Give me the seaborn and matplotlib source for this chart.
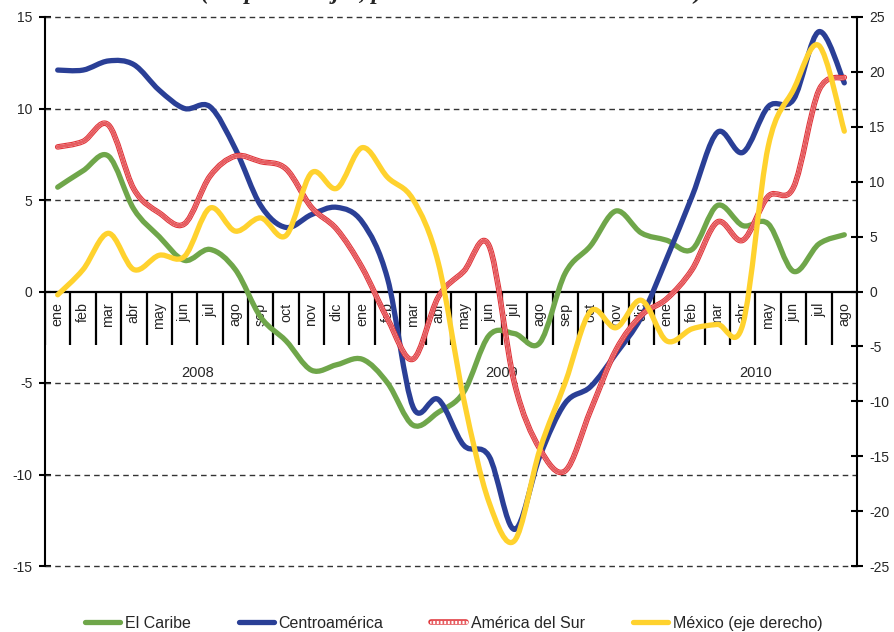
import numpy as np
import matplotlib
matplotlib.use("Agg")
import matplotlib.pyplot as plt
import seaborn as sns
from matplotlib.path import Path
from matplotlib.patches import PathPatch
from matplotlib.lines import Line2D
from matplotlib.legend_handler import HandlerTuple

# ---- data: monthly values, ene 2008 .. ago 2010 ----
month_names = ["ene", "feb", "mar", "abr", "may", "jun",
               "jul", "ago", "sep", "oct", "nov", "dic"]
months = month_names * 2 + month_names[:8]
years = ["2008", "2009", "2010"]
year_spans = [(0, 11), (12, 23), (24, 31)]

el_caribe = [5.7, 6.6, 7.4, 4.5, 3.0, 1.7, 2.3, 1.2, -1.4, -2.7, -4.3, -4.0,
             -3.7, -5.0, -7.3, -6.6, -5.5, -2.4, -2.3, -2.8, 1.0, 2.5, 4.4, 3.2,
             2.8, 2.3, 4.7, 3.6, 3.7, 1.1, 2.6, 3.1]
centroamerica = [12.1, 12.1, 12.6, 12.4, 11.0, 10.0, 10.1, 7.8, 4.7, 3.5, 4.2, 4.6,
                 3.8, 0.7, -6.3, -5.9, -8.4, -9.0, -13.0, -9.0, -6.1, -5.2, -3.4, -1.4,
                 1.8, 5.2, 8.7, 7.6, 10.1, 10.5, 14.2, 11.4]
america_sur = [7.9, 8.2, 9.1, 5.6, 4.3, 3.7, 6.3, 7.4, 7.1, 6.7, 4.6, 3.4,
               1.3, -1.5, -3.7, -0.3, 1.1, 2.5, -5.0, -8.6, -9.8, -6.5, -3.2, -1.3,
               -0.4, 1.2, 3.8, 2.8, 5.2, 5.7, 11.0, 11.7]
mexico = [-0.3, 2.0, 5.3, 2.0, 3.3, 3.2, 7.6, 5.5, 6.7, 5.1, 10.8, 9.4,
          13.1, 10.4, 8.4, 2.6, -9.8, -19.2, -22.7, -14.4, -8.3, -1.8, -3.3, -0.8,
          -4.5, -3.4, -3.0, -3.0, 13.2, 18.4, 22.4, 14.6]

labels = ["El Caribe", "Centroamérica", "América del Sur", "México (eje derecho)"]

GREEN = "#6FA64A"
BLUE = "#2A3F96"
RED = "#E0353A"
YELLOW = "#FFD22E"

sns.set_theme(style="white")
plt.rcParams["font.family"] = ["Liberation Sans", "DejaVu Sans"]
plt.rcParams["axes.unicode_minus"] = False


def smooth_path(xs, ys):
    """Cubic Bezier path through the points (Catmull-Rom style smoothing)."""
    pts = np.column_stack([xs, ys]).astype(float)
    n = len(pts)
    verts = [pts[0]]
    codes = [Path.MOVETO]
    for i in range(n - 1):
        p0 = pts[max(i - 1, 0)]
        p1 = pts[i]
        p2 = pts[i + 1]
        p3 = pts[min(i + 2, n - 1)]
        c1 = p1 + (p2 - p0) / 6.0
        c2 = p2 - (p3 - p1) / 6.0
        verts += [c1, c2, p2]
        codes += [Path.CURVE4] * 3
    return Path(verts, codes)


def draw_series(ax, values, **kw):
    x = np.arange(len(values))
    patch = PathPatch(smooth_path(x, values), fill=False,
                      capstyle="round", joinstyle="round", **kw)
    ax.add_patch(patch)
    return patch


fig = plt.figure(figsize=(8.95, 6.32), dpi=100)
ax = fig.add_axes([45 / 895, 66 / 632, 812 / 895, 549 / 632])
ax2 = ax.twinx()

n = len(months)
ax.set_xlim(-0.5, n - 0.5)
ax.set_ylim(-15, 15)
ax2.set_ylim(-25, 25)

# dashed horizontal guides
for v in [-15, -10, -5, 5, 10, 15]:
    ax.axhline(v, color="#333333", lw=1.0, ls=(0, (4, 3)), zorder=1, clip_on=False)
ax.axhline(0, color="black", lw=1.6, zorder=2)

# category axis: month separators hanging from the zero line
ax.vlines(np.arange(n + 1) - 0.5, -2.95, 0, color="black", lw=1.6, zorder=2)
for i, m in enumerate(months):
    ax.text(i, -0.6, m, rotation=90, ha="center", va="top", fontsize=10.3, zorder=3)
for yr, (a, b) in zip(years, year_spans):
    ax.text((a + b) / 2, -4.45, yr, ha="center", va="center", fontsize=10.5, zorder=3)

# series
draw_series(ax, el_caribe, edgecolor=GREEN, lw=3.8, zorder=4)
draw_series(ax, centroamerica, edgecolor=BLUE, lw=3.8, zorder=5)
draw_series(ax, america_sur, edgecolor=RED, lw=4.0, zorder=6)
draw_series(ax, america_sur, edgecolor="white", lw=2.4, zorder=6.1)
draw_series(ax, america_sur, edgecolor=RED, lw=2.4, zorder=6.2,
            linestyle=(0, (0.5, 0.6)), alpha=0.8)
draw_series(ax2, mexico, edgecolor=YELLOW, lw=3.8, zorder=7)

# axes styling
ax.set_xticks([])
ax.set_yticks(np.arange(-15, 16, 5))
ax2.set_yticks(np.arange(-25, 26, 5))
for a in (ax, ax2):
    a.grid(False)
    a.spines["top"].set_visible(False)
    a.spines["bottom"].set_visible(False)
    a.tick_params(axis="y", direction="inout", length=8, width=1.5,
                  color="black", labelsize=10, pad=5)
ax.spines["left"].set_color("black")
ax.spines["left"].set_linewidth(1.5)
ax2.spines["right"].set_color("black")
ax2.spines["right"].set_linewidth(1.5)
ax2.spines["left"].set_visible(False)
ax.spines["right"].set_visible(False)
ax.patch.set_visible(False)
ax2.patch.set_visible(False)

# heading (only its lower part falls inside the figure)
fig.text(0.505, 1.0015, "(En porcentajes, promedios móviles de tres meses)",
         ha="center", va="baseline", fontsize=17.5, fontweight="bold",
         fontstyle="italic", family=["Liberation Serif", "DejaVu Serif"])

# legend
h_green = Line2D([], [], color=GREEN, lw=3.8, solid_capstyle="round")
h_blue = Line2D([], [], color=BLUE, lw=3.8, solid_capstyle="round")
h_red = (Line2D([], [], color=RED, lw=4.0),
         Line2D([], [], color="white", lw=2.4),
         Line2D([], [], color=RED, lw=2.4, ls=(0, (0.5, 0.6)), alpha=0.8))
h_yellow = Line2D([], [], color=YELLOW, lw=3.8, solid_capstyle="round")
fig.legend([h_green, h_blue, h_red, h_yellow], labels,
           handler_map={tuple: HandlerTuple(ndivide=1)},
           loc="center", bbox_to_anchor=(0.507, 0.014), ncol=4, frameon=False,
           fontsize=11.5, handlelength=2.2, handletextpad=0.3, columnspacing=3.0)

fig.savefig("out.png", dpi=100)
